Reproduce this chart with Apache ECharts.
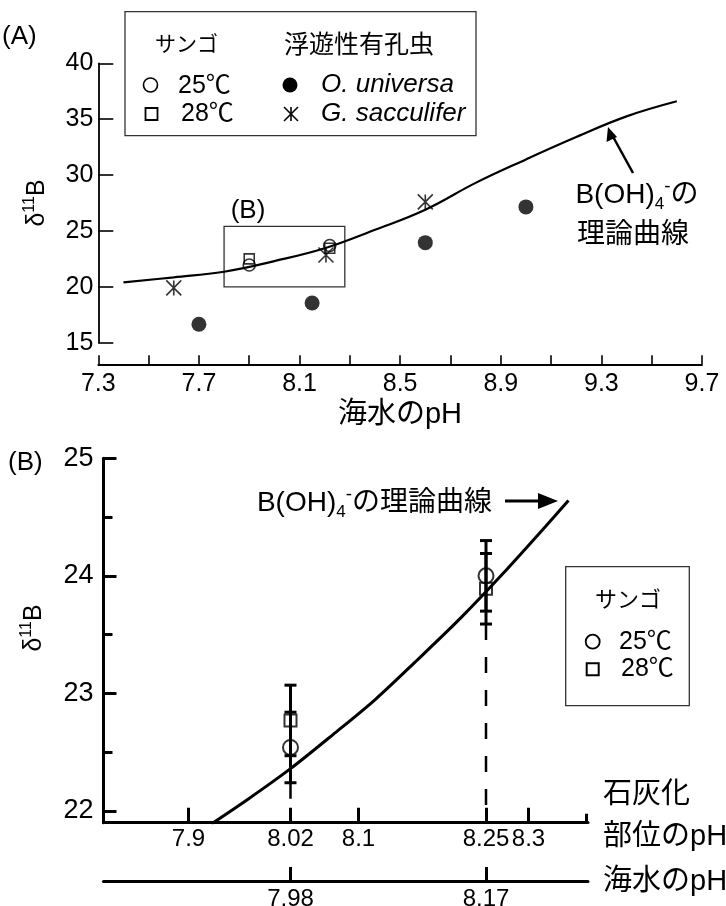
<!DOCTYPE html>
<html><head><meta charset="utf-8">
<script src="https://cdn.jsdelivr.net/npm/echarts@6/dist/echarts.min.js"></script>
<style>html,body{margin:0;padding:0;background:#fff}#c{width:726px;height:906px}</style>
</head><body><div id="c"></div>
<script>
// ---- Panel A data ----
var curveA_pH   = [7.4, 7.6, 7.8, 8.0, 8.2, 8.4, 8.6, 8.8, 9.0, 9.2, 9.4, 9.6];
var curveA_d11B = [20.4, 20.85, 21.35, 22.3, 23.45, 25.1, 26.9, 29.3, 31.4, 33.4, 35.25, 36.6];
var coral25A_pH = [7.9, 8.22];     var coral25A_d = [21.95, 23.7];
var coral28A_pH = [7.9, 8.22];     var coral28A_d = [22.5, 23.45];
var univ_pH = [7.7, 8.15, 8.6, 9.0];      var univ_d = [16.65, 18.55, 23.95, 27.15];
var sacc_pH = [7.6, 8.205, 8.6];          var sacc_d = [19.9, 22.85, 27.6];
var boxB_pH = [7.8, 8.28];  var boxB_d = [20, 25.4];
var xTicksA  = [7.3, 7.5, 7.7, 7.9, 8.1, 8.3, 8.5, 8.7, 8.9, 9.1, 9.3, 9.5, 9.7];
var xLabelsA = [7.3, 7.7, 8.1, 8.5, 8.9, 9.3, 9.7];
// ---- Panel B data ----
var curveB_pH   = [7.927, 7.97, 8.02, 8.07, 8.12, 8.17, 8.22, 8.27, 8.32, 8.347];
var curveB_d11B = [21.89, 22.10, 22.36, 22.65, 22.95, 23.29, 23.64, 24.02, 24.42, 24.64];
var coral25B_pH = [8.02, 8.25]; var coral25B_d = [22.54, 24.0]; var coral25B_err = [0.3, 0.3];
var coral28B_pH = [8.02, 8.25]; var coral28B_d = [22.77, 23.89]; var coral28B_err = [0.3, 0.3];
var xTicksB = [7.9, 8.02, 8.1, 8.25, 8.3];
var seaTicksB = [7.98, 8.17];
var yLabelsB = [22, 23, 24, 25];
var yMinorB = [22.5, 23.5, 24.5];

var LAT = '"Liberation Sans", Arial, sans-serif';
var JP = '"Noto Sans CJK JP", sans-serif';
var MIX = '"Liberation Sans", "Noto Sans CJK JP", sans-serif';

function pairs(xs, ys){ return xs.map(function(x,i){return [x, ys[i]];}); }
function triples(xs, ys, es){ return xs.map(function(x,i){return [x, ys[i], es[i]];}); }
function T(x, y, text, size, fam, extra){
  var st = {text:text, fontSize:size, fontFamily:fam, fill:'#000', verticalAlign:'middle', align:'left'};
  if (extra) for (var k in extra) st[k] = extra[k];
  return {type:'text', x:x, y:y, style:st};
}

var chart = echarts.init(document.getElementById('c'), null, {renderer:'canvas'});

var axisA = {lineStyle:{color:'#000', width:1.8}};
var openStyle = {color:'rgba(0,0,0,0)', borderColor:'#000', borderWidth:1.6};
var crossPath = 'path://M0,0L12,12M12,0L0,12M6,0L6,12';

function errRender(params, api){
  var x = api.value(0), y = api.value(1), e = api.value(2);
  var t = api.coord([x, y + e]), b = api.coord([x, y - e]);
  var hw = 6;
  var st = {stroke:'#000', lineWidth:3};
  return {type:'group', children:[
    {type:'line', shape:{x1:t[0], y1:t[1], x2:b[0], y2:b[1]}, style:st},
    {type:'line', shape:{x1:t[0]-hw, y1:t[1], x2:t[0]+hw, y2:t[1]}, style:st},
    {type:'line', shape:{x1:b[0]-hw, y1:b[1], x2:b[0]+hw, y2:b[1]}, style:st}
  ]};
}

var yMinB = 21.9, yMaxB = 25;
var dash25 = [[coral25B_pH[0], coral25B_d[0]-coral25B_err[0]], [coral25B_pH[0], yMinB]];
var dash28 = [[coral28B_pH[1], coral28B_d[1]-coral28B_err[1]], [coral28B_pH[1], yMinB]];

var boh = {sub:{fontSize:17, fontFamily:LAT, verticalAlign:'bottom', lineHeight:36},
           sup:{fontSize:19, fontFamily:LAT, verticalAlign:'top', lineHeight:36}};
var dsup = {sup:{fontSize:16, fontFamily:LAT, verticalAlign:'top', lineHeight:30}};

var option = {
  animation: false,
  backgroundColor: '#fff',
  grid: [
    {left: 98.3, top: 63.3, width: 603.7, height: 279.4, outerBoundsMode:'none', containLabel:false},
    {left: 103.5, top: 458.3, width: 484.5, height: 364.4, outerBoundsMode:'none', containLabel:false},
    {left: 103.5, top: 861, width: 484.5, height: 20, outerBoundsMode:'none', containLabel:false}
  ],
  xAxis: [
    {gridIndex:0, type:'value', min:7.3, max:9.7, position:'bottom', offset:21.6,
     axisLine:axisA, splitLine:{show:false},
     axisTick:{inside:true, length:9, customValues:xTicksA, lineStyle:{color:'#000', width:1.6}},
     axisLabel:{customValues:xLabelsA, margin:7, color:'#000', fontSize:25, fontFamily:LAT}},
    {gridIndex:1, type:'value', min:7.8, max:8.37, position:'bottom',
     axisLine:{lineStyle:{color:'#000', width:3}}, splitLine:{show:false},
     axisTick:{inside:true, length:15, customValues:xTicksB, lineStyle:{color:'#000', width:3}},
     axisLabel:{customValues:xTicksB, margin:5, color:'#000', fontSize:24, fontFamily:LAT}},
    {gridIndex:2, type:'value', min:7.7983, max:8.2691, position:'bottom',
     axisLine:{onZero:false, lineStyle:{color:'#000', width:3}}, splitLine:{show:false},
     axisTick:{inside:true, length:14, customValues:seaTicksB, lineStyle:{color:'#000', width:3}},
     axisLabel:{customValues:seaTicksB, margin:6, color:'#000', fontSize:24, fontFamily:LAT}},
    {gridIndex:1, type:'value', min:7.8, max:8.37, position:'bottom', offset:0,
     axisLine:{show:false}, splitLine:{show:false},
     axisTick:{inside:true, length:9, customValues:[8.368], lineStyle:{color:'#000', width:3}},
     axisLabel:{show:false}}
  ],
  yAxis: [
    {gridIndex:0, type:'value', min:15, max:40, interval:5, position:'left',
     axisLine:{show:true, lineStyle:{color:'#000', width:1.8}}, splitLine:{show:false},
     axisTick:{show:true, inside:true, length:15, lineStyle:{color:'#000', width:1.6}},
     axisLabel:{margin:5, color:'#000', fontSize:25, fontFamily:LAT}},
    {gridIndex:1, type:'value', min:yMinB, max:yMaxB, position:'left',
     axisLine:{show:true, lineStyle:{color:'#000', width:3}}, splitLine:{show:false},
     axisTick:{show:true, inside:true, length:13, customValues:yLabelsB, lineStyle:{color:'#000', width:3}},
     axisLabel:{customValues:yLabelsB, margin:10, color:'#000', fontSize:27, fontFamily:LAT}},
    {gridIndex:1, type:'value', min:yMinB, max:yMaxB, position:'left', offset:0,
     axisLine:{show:false}, splitLine:{show:false},
     axisTick:{show:true, inside:true, length:9, customValues:yMinorB, lineStyle:{color:'#000', width:3}},
     axisLabel:{show:false}},
    {gridIndex:2, type:'value', min:0, max:1, show:false}
  ],
  series: [
    {type:'line', xAxisIndex:0, yAxisIndex:0, data:pairs(curveA_pH, curveA_d11B), smooth:0.4,
     showSymbol:false, lineStyle:{color:'#000', width:2.2}, z:2,
     markArea:{silent:true, itemStyle:{color:'rgba(0,0,0,0)', borderColor:'#333', borderWidth:1.3},
       data:[[{coord:[boxB_pH[0], boxB_d[0]]}, {coord:[boxB_pH[1], boxB_d[1]]}]]}},
    {type:'scatter', xAxisIndex:0, yAxisIndex:0, data:pairs(univ_pH, univ_d), symbol:'circle', symbolSize:15,
     itemStyle:{color:'#000'}},
    {type:'scatter', xAxisIndex:0, yAxisIndex:0, data:pairs(sacc_pH, sacc_d), symbol:crossPath, symbolSize:15,
     itemStyle:{color:'rgba(0,0,0,0)', borderColor:'#000', borderWidth:1.6}},
    {type:'scatter', xAxisIndex:0, yAxisIndex:0, data:pairs(coral25A_pH, coral25A_d), symbol:'circle', symbolSize:12,
     itemStyle:openStyle},
    {type:'scatter', xAxisIndex:0, yAxisIndex:0, data:pairs(coral28A_pH, coral28A_d), symbol:'rect', symbolSize:10,
     itemStyle:openStyle},
    // Panel B
    {type:'line', xAxisIndex:1, yAxisIndex:1, data:pairs(curveB_pH, curveB_d11B), smooth:0.3,
     showSymbol:false, lineStyle:{color:'#000', width:3}},
    {type:'line', xAxisIndex:1, yAxisIndex:1, data:dash25, showSymbol:false,
     lineStyle:{color:'#000', width:2.5, type:[16,17]}},
    {type:'line', xAxisIndex:1, yAxisIndex:1, data:dash28, showSymbol:false,
     lineStyle:{color:'#000', width:2.5, type:[16,17]}},
    {type:'custom', xAxisIndex:1, yAxisIndex:1, data:triples(coral25B_pH, coral25B_d, coral25B_err), renderItem:errRender},
    {type:'custom', xAxisIndex:1, yAxisIndex:1, data:triples(coral28B_pH, coral28B_d, coral28B_err), renderItem:errRender},
    {type:'scatter', xAxisIndex:1, yAxisIndex:1, data:pairs(coral25B_pH, coral25B_d), symbol:'circle', symbolSize:15,
     itemStyle:{color:'rgba(0,0,0,0)', borderColor:'#000', borderWidth:2}, z:5},
    {type:'scatter', xAxisIndex:1, yAxisIndex:1, data:pairs(coral28B_pH, coral28B_d), symbol:'rect', symbolSize:12,
     itemStyle:{color:'rgba(0,0,0,0)', borderColor:'#000', borderWidth:2}, z:5}
  ],
  graphic: [
    // Panel A labels
    T(2, 37, '(A)', 26, LAT),
    {type:'rect', shape:{x:125, y:11.7, width:351, height:124}, style:{fill:'none', stroke:'#333', lineWidth:1.3}},
    T(155, 43, 'サンゴ', 21, JP),
    T(284, 43, '浮遊性有孔虫', 25, JP),
    {type:'circle', shape:{cx:150.5, cy:85, r:7}, style:{fill:'none', stroke:'#000', lineWidth:1.6}},
    T(178, 86, '25℃', 25, MIX),
    {type:'rect', shape:{x:145.5, y:108, width:12, height:12}, style:{fill:'none', stroke:'#000', lineWidth:1.8}},
    T(181, 114, '28℃', 25, MIX),
    {type:'circle', shape:{cx:290, cy:85, r:7.5}, style:{fill:'#000'}},
    T(321, 85, 'O. universa', 26, LAT, {fontStyle:'italic'}),
    {type:'polyline', shape:{points:[[284,107],[298,121]]}, style:{stroke:'#000', lineWidth:1.6}},
    {type:'polyline', shape:{points:[[298,107],[284,121]]}, style:{stroke:'#000', lineWidth:1.6}},
    {type:'polyline', shape:{points:[[291,107],[291,121]]}, style:{stroke:'#000', lineWidth:1.6}},
    T(321, 114, 'G. sacculifer', 26, LAT, {fontStyle:'italic'}),
    T(248, 211, '(B)', 26, LAT, {align:'center'}),
    {type:'polyline', shape:{points:[[633,173],[611,133]]}, style:{stroke:'#000', lineWidth:2.5}},
    {type:'polygon', shape:{points:[[608,127],[606.5,142],[617,137]]}, style:{fill:'#000'}},
    T(637, 195, 'B(OH){sub|4}{sup|-}の', 28, MIX, {align:'center', rich:boh}),
    T(633, 232, '理論曲線', 28, JP, {align:'center'}),
    T(37, 203, 'δ{sup|11}B', 25, LAT, {align:'center', rich:dsup}),
    T(400, 415, '海水のpH', 29, MIX, {align:'center'}),
    // Panel B labels
    T(8, 463, '(B)', 26, LAT),
    T(34, 628, 'δ{sup|11}B', 25, LAT, {align:'center', rich:dsup}),
    T(492, 503, 'B(OH){sub|4}{sup|-}の理論曲線', 28, MIX, {align:'right', rich:boh}),
    {type:'polyline', shape:{points:[[505,501],[540,501]]}, style:{stroke:'#000', lineWidth:3}},
    {type:'polygon', shape:{points:[[558,501],[538,493],[538,509]]}, style:{fill:'#000'}},
    {type:'rect', shape:{x:565.7, y:566.7, width:123.6, height:139}, style:{fill:'#fff', stroke:'#333', lineWidth:1.3}},
    T(628, 599, 'サンゴ', 22, JP, {align:'center'}),
    {type:'circle', shape:{cx:592.7, cy:641.7, r:7}, style:{fill:'none', stroke:'#000', lineWidth:1.8}},
    T(619, 642, '25℃', 25, MIX),
    {type:'rect', shape:{x:586.7, y:663.3, width:12, height:12}, style:{fill:'none', stroke:'#000', lineWidth:2}},
    T(621, 669, '28℃', 25, MIX),
    T(603, 792, '石灰化', 29, JP),
    T(603, 837, '部位のpH', 29, MIX),
    T(603, 882, '海水のpH', 29, MIX)
  ]
};
option.graphic.forEach(function(g){
  if (g.type === 'text' && g.style.text.indexOf('δ') === 0) g.rotation = Math.PI/2;
});
chart.setOption(option);
</script>
</body></html>
